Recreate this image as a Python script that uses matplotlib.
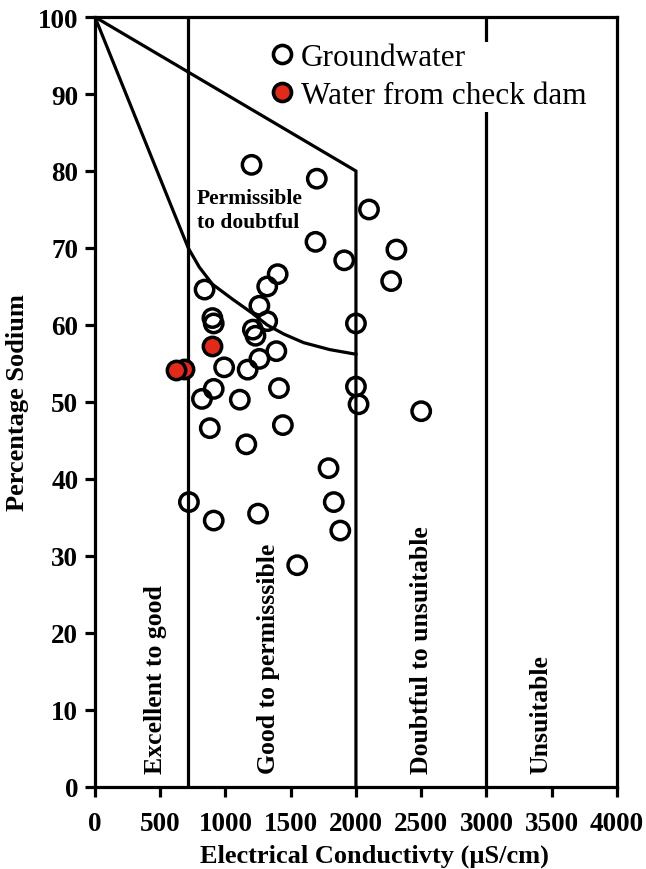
import matplotlib
matplotlib.use("Agg")
import matplotlib.pyplot as plt
from matplotlib.lines import Line2D

# ---- data ----
gw_ec = [1200, 1700, 2100, 1690, 2310, 1910, 2270, 1400, 1320, 840, 1260,
         900, 910, 1320, 2000, 1210, 1230, 1390, 1260, 990, 1170, 910, 1410,
         2000, 2020, 2500, 820, 1110, 880, 1440, 1160, 1790, 1830, 1880,
         720, 910, 1250, 1550]
gw_na = [80.8, 79.0, 75.0, 70.8, 69.8, 68.4, 65.7, 66.6, 65.0, 64.6, 62.5,
         60.9, 60.2, 60.5, 60.2, 59.4, 58.6, 56.6, 55.6, 54.5, 54.2, 51.7, 51.8,
         52.0, 49.7, 48.8, 50.4, 50.3, 46.6, 47.0, 44.5, 41.4, 37.0, 33.3,
         37.0, 34.6, 35.5, 28.8]

dam_ec = [680, 900, 620]
dam_na = [54.3, 57.3, 54.2]

# boundary lines of the diagram
upper_ec = [0, 2000, 2000]
upper_na = [100, 80, 0]
lower_ec = [0, 300, 600, 715, 800, 900, 1050, 1200, 1320, 1450, 1600, 1800, 2000]
lower_na = [100, 87.4, 74.8, 70, 67.5, 65.3, 63.4, 61.6, 60.0, 58.8, 57.7, 56.8, 56.2]
class_limits = [715, 3000]

zone_labels = ["Excellent to good", "Good to permisssible",
               "Doubtful to unsuitable", "Unsuitable"]
zone_x = [465, 1330, 2500, 3420]

xticks = list(range(0, 4001, 500))
yticks = list(range(0, 101, 10))

# ---- figure ----
serif = ["Liberation Serif", "DejaVu Serif"]
plt.rcParams['font.family'] = serif

fig = plt.figure(figsize=(6.46, 8.70), dpi=100)
ax = fig.add_axes([0.147, 0.0943, 0.808, 0.885])

lw = 2.3
ax.plot(upper_ec, upper_na, color='black', lw=lw, zorder=2, solid_joinstyle='miter')
ax.plot(lower_ec, lower_na, color='black', lw=lw, zorder=2)
for xc in class_limits:
    ax.plot([xc, xc], [0, 100], color='black', lw=lw, zorder=2)

ax.scatter(gw_ec, gw_na, s=175, facecolors='none', edgecolors='black',
           linewidths=2.5, zorder=4)
ax.scatter(dam_ec, dam_na, s=175, facecolors='#e02a1a', edgecolors='black',
           linewidths=2.5, zorder=5)

for lab, xz in zip(zone_labels, zone_x):
    ax.text(xz, 1.8, lab, rotation=90, ha='center', va='bottom',
            fontsize=18.5, fontweight='bold', zorder=3)

ax.text(780, 74.9, "Permissible\nto doubtful", ha='left', va='center',
        fontsize=15.5, fontweight='bold', linespacing=1.25, zorder=3)

ax.set_xlim(0, 4000)
ax.set_ylim(0, 100)
ax.set_xticks(xticks)
ax.set_yticks(yticks)
ax.tick_params(axis='both', direction='out', length=7, width=2.3,
               labelsize=19.5, pad=5)
ax.tick_params(axis='x', pad=10)
for lab in ax.get_xticklabels() + ax.get_yticklabels():
    lab.set_fontweight('bold')
for sp in ax.spines.values():
    sp.set_linewidth(lw)

ax.set_xlabel("Electrical Conductivty (\u00b5S/cm)", fontsize=19,
              fontweight='bold', labelpad=3)
ax.xaxis.set_label_coords(0.536, -0.074)
ax.set_ylabel("Percentage Sodium", fontsize=19, fontweight='bold', labelpad=6)

handles = [Line2D([], [], ls='none', marker='o', ms=13, mfc='none',
                  mec='black', mew=2.6),
           Line2D([], [], ls='none', marker='o', ms=13, mfc='#e02a1a',
                  mec='black', mew=2.6)]
leg = ax.legend(handles, ["Groundwater", "Water from check dam"],
                loc='upper left', bbox_to_anchor=(0.325, 0.968),
                fontsize=22.5, frameon=True, framealpha=1, edgecolor='none',
                facecolor='white', handletextpad=0.1, borderpad=0.05,
                labelspacing=0.28, handlelength=1.0, borderaxespad=0)
leg.set_zorder(6)

fig.savefig("out.png", dpi=100)
